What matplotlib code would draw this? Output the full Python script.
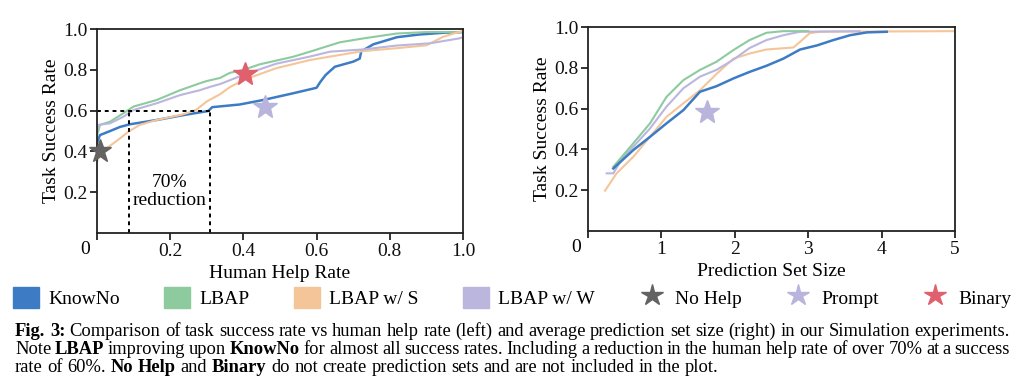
import matplotlib.pyplot as plt
from matplotlib.patches import Patch
from matplotlib.lines import Line2D

plt.rcParams['font.family'] = ['Liberation Serif', 'DejaVu Serif']
plt.rcParams['font.size'] = 14

# left panel: human help rate vs task success rate
knowno_help = [0, 0.008, 0.036, 0.063, 0.09, 0.163, 0.236, 0.304, 0.315, 0.39, 0.454, 0.536, 0.60,
               0.61, 0.625, 0.65, 0.70, 0.718, 0.722, 0.755, 0.82, 0.88, 0.95, 1.0]
knowno_succ = [0.44, 0.48, 0.50, 0.52, 0.533, 0.554, 0.578, 0.598, 0.617, 0.63, 0.652, 0.685, 0.712,
               0.74, 0.775, 0.815, 0.84, 0.855, 0.89, 0.925, 0.96, 0.973, 0.982, 0.985]

lbap_help = [0, 0.004, 0.008, 0.036, 0.072, 0.1, 0.163, 0.227, 0.281, 0.30, 0.336, 0.363, 0.40, 0.445,
             0.536, 0.582, 0.637, 0.664, 0.728, 0.819, 0.9, 1.0]
lbap_succ = [0.48, 0.50, 0.53, 0.546, 0.587, 0.62, 0.652, 0.70, 0.734, 0.745, 0.76, 0.785, 0.80, 0.827,
             0.864, 0.889, 0.92, 0.935, 0.954, 0.978, 0.985, 0.985]

lbaps_help = [0, 0.004, 0.026, 0.063, 0.086, 0.117, 0.163, 0.227, 0.25, 0.272, 0.30, 0.336, 0.363, 0.40,
              0.49, 0.582, 0.637, 0.728, 0.819, 0.90, 0.946, 0.992, 1.0]
lbaps_succ = [0.35, 0.366, 0.415, 0.464, 0.497, 0.53, 0.554, 0.578, 0.59, 0.605, 0.645, 0.68, 0.715, 0.75,
              0.808, 0.848, 0.865, 0.892, 0.906, 0.92, 0.962, 0.987, 0.99]

lbapw_help = [0, 0.004, 0.036, 0.072, 0.1, 0.163, 0.227, 0.281, 0.31, 0.336, 0.40, 0.49, 0.582, 0.637,
              0.728, 0.819, 0.91, 0.99, 1.0]
lbapw_succ = [0.50, 0.53, 0.538, 0.57, 0.603, 0.636, 0.676, 0.70, 0.717, 0.73, 0.775, 0.83, 0.865, 0.889,
              0.90, 0.919, 0.93, 0.954, 0.96]

# right panel: prediction set size vs task success rate
knowno_size = [0.345, 0.617, 0.845, 1.07, 1.30, 1.526, 1.75, 1.98, 2.2, 2.43, 2.66, 2.89, 3.12, 3.34,
               3.57, 3.8, 4.07]
knowno_succ2 = [0.307, 0.397, 0.462, 0.528, 0.593, 0.683, 0.71, 0.748, 0.78, 0.81, 0.845, 0.89, 0.91,
                0.936, 0.96, 0.974, 0.977]

lbap_size = [0.345, 0.617, 0.845, 1.07, 1.30, 1.526, 1.75, 1.98, 2.2, 2.43, 2.66, 3.0]
lbap_succ2 = [0.315, 0.43, 0.528, 0.658, 0.74, 0.79, 0.83, 0.887, 0.936, 0.972, 0.98, 0.98]

lbaps_size = [0.232, 0.39, 0.617, 0.845, 1.07, 1.30, 1.526, 1.75, 1.98, 2.2, 2.43, 2.8, 2.89, 3.02,
              3.16, 5.0]
lbaps_succ2 = [0.198, 0.283, 0.364, 0.462, 0.56, 0.626, 0.69, 0.77, 0.845, 0.87, 0.89, 0.90, 0.928,
               0.97, 0.977, 0.98]

lbapw_size = [0.255, 0.345, 0.48, 0.617, 0.845, 1.07, 1.30, 1.526, 1.75, 1.98, 2.2, 2.43, 2.66, 2.89, 3.7]
lbapw_succ2 = [0.283, 0.283, 0.364, 0.413, 0.503, 0.61, 0.70, 0.757, 0.79, 0.84, 0.897, 0.936, 0.96,
               0.977, 0.98]

# single points
nohelp_pt = (0.008, 0.40)
binary_pt = (0.404, 0.778)
prompt_left = (0.459, 0.62)
prompt_right = (1.617, 0.585)

c_knowno = '#3d7cc4'
c_lbap = '#8dcb9e'
c_lbaps = '#f5c59a'
c_lbapw = '#bbb6dd'
c_nohelp = '#636363'
c_prompt = '#b9b4dc'
c_binary = '#e0606e'

fig = plt.figure(figsize=(10.24, 3.89), dpi=100)
ax1 = fig.add_axes([0.0947, 0.401, 0.3574, 0.5244])
ax2 = fig.add_axes([0.5742, 0.406, 0.3584, 0.5244])


def style(ax, xmax, ticks, labels, xlabel):
    ax.set_xlim(0, xmax)
    ax.set_ylim(0, 1)
    ax.set_xticks(ticks)
    ax.set_xticklabels(labels)
    ax.set_yticks([0.2, 0.4, 0.6, 0.8, 1.0])
    ax.set_yticklabels(['0.2', '0.4', '0.6', '0.8', '1.0'])
    ax.tick_params(direction='out', length=5, width=1.2, labelsize=14, pad=2, colors='#111111')
    for s in ax.spines.values():
        s.set_linewidth(1.3)
        s.set_color('#222222')
    ax.set_ylabel('Task Success Rate', fontsize=14)
    ax.yaxis.set_label_coords(-0.10, 0.5)
    ax.set_xlabel(xlabel, fontsize=14)
    ax.xaxis.set_label_coords(0.5, -0.155)
    ax.text(-0.032, -0.083, '0', transform=ax.transAxes, ha='center', va='center', fontsize=14)


style(ax1, 1.0, [0, 0.2, 0.4, 0.6, 0.8, 1.0], ['', '0.2', '0.4', '0.6', '0.8', '1.0'], 'Human Help Rate')
style(ax2, 5, [0, 1, 2, 3, 4, 5], ['', '1', '2', '3', '4', '5'], 'Prediction Set Size')

ax1.plot(knowno_help, knowno_succ, color=c_knowno, lw=1.8)
ax1.plot(lbap_help, lbap_succ, color=c_lbap, lw=1.5)
ax1.plot(lbaps_help, lbaps_succ, color=c_lbaps, lw=1.5)
ax1.plot(lbapw_help, lbapw_succ, color=c_lbapw, lw=1.5)

# 70% reduction guide
ax1.plot([0, 0.309], [0.6, 0.6], color='black', lw=1.4, ls=(0, (2, 2)))
ax1.plot([0.087, 0.087], [0, 0.6], color='black', lw=1.4, ls=(0, (2, 2)))
ax1.plot([0.309, 0.309], [0, 0.6], color='black', lw=1.4, ls=(0, (2, 2)))
ax1.text(0.198, 0.205, '70%\nreduction', ha='center', va='center', fontsize=14, linespacing=1.1)

ax1.plot(*nohelp_pt, marker='*', ms=17, color=c_nohelp, ls='none', clip_on=False, zorder=5)
ax1.plot(*binary_pt, marker='*', ms=18, color=c_binary, ls='none', zorder=5)
ax1.plot(*prompt_left, marker='*', ms=18, color=c_prompt, ls='none', zorder=5)

ax2.plot(lbaps_size, lbaps_succ2, color=c_lbaps, lw=1.5)
ax2.plot(lbapw_size, lbapw_succ2, color=c_lbapw, lw=1.5)
ax2.plot(lbap_size, lbap_succ2, color=c_lbap, lw=1.5)
ax2.plot(knowno_size, knowno_succ2, color=c_knowno, lw=1.8)
ax2.plot(*prompt_right, marker='*', ms=18, color=c_prompt, ls='none', zorder=5)

handles = [Patch(color=c_knowno), Patch(color=c_lbap), Patch(color=c_lbaps), Patch(color=c_lbapw),
           Line2D([], [], marker='*', ms=16, ls='none', color=c_nohelp),
           Line2D([], [], marker='*', ms=16, ls='none', color=c_prompt),
           Line2D([], [], marker='*', ms=16, ls='none', color=c_binary)]
labels = ['KnowNo', 'LBAP', 'LBAP w/ S', 'LBAP w/ W', 'No Help', 'Prompt', 'Binary']
fig.legend(handles, labels, ncol=7, loc='center', bbox_to_anchor=(0.0125, 0.2, 0.975, 0.07),
           mode='expand', frameon=False, prop={'family': 'Liberation Serif', 'size': 14},
           handlelength=1.34, handleheight=1.34, handletextpad=0.5, borderaxespad=0, borderpad=0)

# caption, justified like the paper
cap1 = [('Fig. 3:', True), ('Comparison of task success rate vs human help rate (left) and average '
                            'prediction set size (right) in our Simulation experiments.', False)]
cap2 = [('Note', False), ('LBAP', True), ('improving upon', False), ('KnowNo', True),
        ('for almost all success rates. Including a reduction in the human help rate of over 70% '
         'at a success', False)]
cap3 = [('rate of 60%.', False), ('No Help', True), ('and', False), ('Binary', True),
        ('do not create prediction sets and are not included in the plot.', False)]

FS = 13.3
W = 1024.0
renderer = fig.canvas.get_renderer()


def put_line(segs, y, justify, x0=15, x1=1010):
    arts = []
    for text, bold in segs:
        for w in text.split():
            arts.append(fig.text(0, y, w, fontsize=FS, fontweight='bold' if bold else 'normal',
                                 va='baseline', ha='left'))
    widths = [a.get_window_extent(renderer).width for a in arts]
    if justify:
        gap = (x1 - x0 - sum(widths)) / (len(arts) - 1)
    else:
        gap = FS * 100 / 72 * 0.25
    x = x0
    for a, w in zip(arts, widths):
        a.set_x(x / W)
        x += w + gap


put_line(cap1, 1 - 336 / 389, True)
put_line(cap2, 1 - 354 / 389, True)
put_line(cap3, 1 - 372 / 389, False)

fig.savefig('out.png', dpi=100)
